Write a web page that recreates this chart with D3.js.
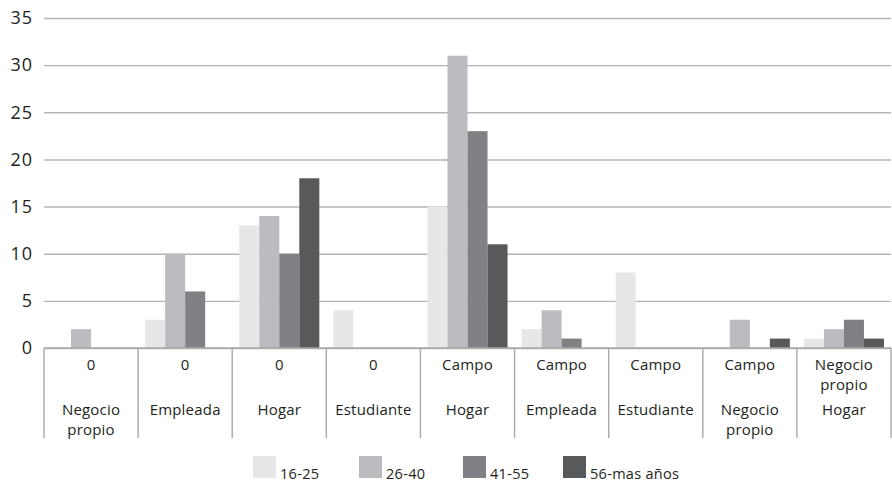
<!DOCTYPE html>
<html>
<head>
<meta charset="utf-8">
<script src="https://cdn.jsdelivr.net/npm/d3@7"></script>
<style>
  body { margin: 0; background: #fff; }
  text { font-family: "Open Sans", "Noto Sans", sans-serif; fill: #231f20; }
</style>
</head>
<body>
<svg id="chart" width="892" height="483"></svg>
<script>
// Category labels (two levels) and series
const level1 = ["0", "0", "0", "0", "Campo", "Campo", "Campo", "Campo", "Negocio propio"];
const level2 = ["Negocio propio", "Empleada", "Hogar", "Estudiante", "Hogar", "Empleada", "Estudiante", "Negocio propio", "Hogar"];
const seriesNames = ["16-25", "26-40", "41-55", "56-mas años"];
const colors = ["#e6e7e8", "#bbbcbf", "#808184", "#58595b"];

const v1625 = [0, 3, 13, 4, 15, 2, 8, 0, 1];
const v2640 = [2, 10, 14, 0, 31, 4, 0, 3, 2];
const v4155 = [0, 6, 10, 0, 23, 1, 0, 0, 3];
const v56 = [0, 0, 18, 0, 11, 0, 0, 1, 1];
const yTicks = [0, 5, 10, 15, 20, 25, 30, 35];

const seriesValues = [v1625, v2640, v4155, v56];
const data = level2.map((d, i) => ({
    idx: i,
    values: seriesValues.map((s, j) => ({ key: j, value: s[i] }))
}));

const svg = d3.select("#chart");
const margin = { top: 18, right: 1, bottom: 135, left: 44 };
const width = 892;
const height = 483;

// Scales
const x0 = d3.scaleBand()
    .domain(data.map(d => d.idx))
    .range([margin.left, width - margin.right])
    .paddingInner(0)
    .paddingOuter(0);

const x1 = d3.scaleBand()
    .domain(d3.range(seriesNames.length))
    .range([0, x0.bandwidth()])
    .paddingInner(0)
    .paddingOuter(0.35);

const y = d3.scaleLinear()
    .domain([0, 35])
    .range([height - margin.bottom, margin.top]);

// Y axis with gridlines
const yAxis = svg.append("g")
    .attr("transform", `translate(${margin.left},0)`)
    .call(d3.axisLeft(y).tickValues(yTicks).tickSize(-(width - margin.left - margin.right)).tickPadding(11));
yAxis.select(".domain").remove();
yAxis.selectAll(".tick line").attr("stroke", "#b5b5b5").attr("stroke-width", 1.4);
yAxis.selectAll(".tick text")
    .style("font-size", "18px")
    .style("letter-spacing", "1px")
    .style("font-family", "'Open Sans', sans-serif")
    .attr("fill", "#231f20");

// Bars
const groups = svg.append("g")
    .selectAll("g")
    .data(data)
    .enter()
    .append("g")
    .attr("transform", d => `translate(${x0(d.idx)},0)`);

groups.selectAll("rect")
    .data(d => d.values.filter(v => v.value > 0))
    .enter()
    .append("rect")
    .attr("x", d => x1(d.key))
    .attr("y", d => y(d.value))
    .attr("width", x1.bandwidth())
    .attr("height", d => y(0) - y(d.value))
    .attr("fill", d => colors[d.key]);

// Category axis (two levels)
const axisTop = y(0);
const axisBottom = 438;
const catAxis = svg.append("g");

catAxis.append("line")
    .attr("x1", margin.left).attr("x2", width - margin.right)
    .attr("y1", axisTop).attr("y2", axisTop)
    .attr("stroke", "#a8a8a8").attr("stroke-width", 1.4);

const bounds = data.map(d => x0(d.idx)).concat([x0(data.length - 1) + x0.bandwidth()]);
catAxis.selectAll("line.div")
    .data(bounds)
    .enter()
    .append("line")
    .attr("class", "div")
    .attr("x1", d => d).attr("x2", d => d)
    .attr("y1", axisTop).attr("y2", axisBottom)
    .attr("stroke", "#a8a8a8").attr("stroke-width", 1.4);

function drawLabel(txt, cx, cy) {
    const words = txt.split(" ");
    const t = catAxis.append("text")
        .attr("text-anchor", "middle")
        .style("font-size", "15px")
        .style("letter-spacing", "0.2px");
    words.forEach((w, k) => {
        t.append("tspan")
            .attr("x", cx)
            .attr("y", cy + k * 20)
            .attr("dy", "0.35em")
            .text(w);
    });
}

data.forEach(d => {
    const cx = x0(d.idx) + x0.bandwidth() / 2;
    drawLabel(level1[d.idx], cx, 365);
    drawLabel(level2[d.idx], cx, 410);
});

// Legend
const legendX = [253, 359, 463, 563];
const legend = svg.append("g");
seriesNames.forEach((name, i) => {
    legend.append("rect")
        .attr("x", legendX[i])
        .attr("y", 456)
        .attr("width", 23)
        .attr("height", 22)
        .attr("fill", colors[i]);
    legend.append("text")
        .attr("x", legendX[i] + 27)
        .attr("y", 479)
        .style("font-size", "14.5px")
        .style("letter-spacing", "0.3px")
        .text(name);
});
</script>
</body>
</html>
